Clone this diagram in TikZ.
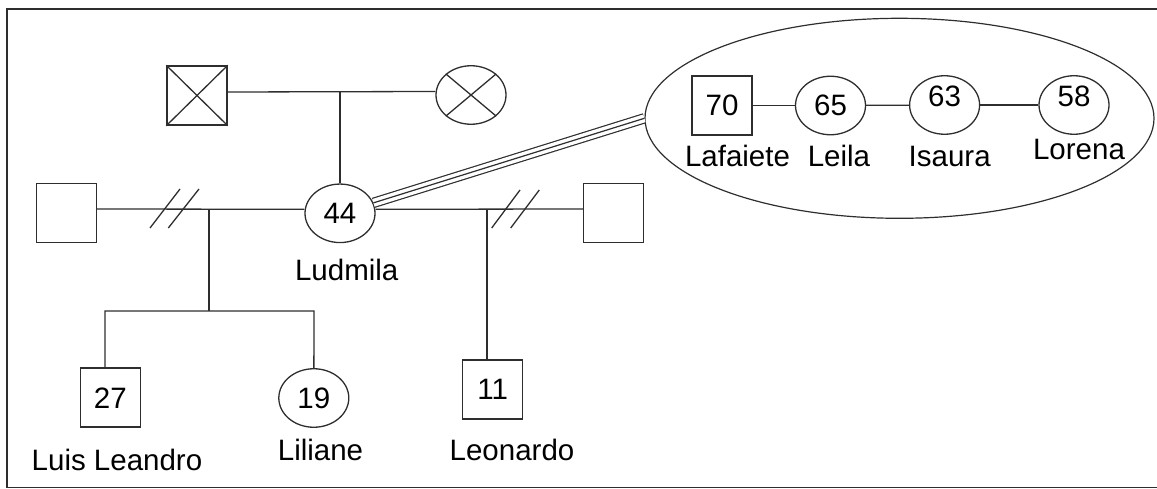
\documentclass[tikz,border=0pt]{standalone}
\usepackage{fontspec}
\setmainfont{Liberation Sans}
\usetikzlibrary{shapes.geometric}
\begin{document}
\begin{tikzpicture}[x=1pt,y=-1pt,
  ln/.style={line width=1.3pt, draw=black!82},
  txt/.style={font=\fontsize{29.5}{35}\selectfont, text=black},
  sq/.style={txt, draw=black!82, line width=1.5pt, rectangle, minimum width=60pt, minimum height=59pt, inner sep=0pt},
  ov/.style={txt, draw=black!82, line width=1.3pt, ellipse, minimum width=70pt, minimum height=58.5pt, inner sep=0pt},
  nm/.style={txt, anchor=base, inner sep=0pt},
]
\useasboundingbox (0,0) rectangle (1157,489);
\draw[line width=1.5pt, black!82] (7,9) rectangle (1175,487.5);

% grandparents
\node[sq] (gf) at (197,95.5) {};
\draw[ln] (gf.north west) -- (gf.south east) (gf.north east) -- (gf.south west);
\node[ov] (gm) at (471,95) {};
\draw[ln] (gm.north west) -- (gm.south east) (gm.north east) -- (gm.south west);
\draw[ln] ([yshift=3.5pt]gf.east) -- ([yshift=3.5pt]gm.west);
\coordinate (gp) at (340,92);

% Ludmila and partners
\node[ov] (lud) at (340,213.3) {44};
\draw[ln] (gp) -- (lud);
\node[sq] (ls) at (66.3,213) {};
\node[sq] (rs) at (613.5,213) {};
\draw[ln] ([yshift=4pt]ls.east) -- ([yshift=4pt]lud.west);
\draw[ln] ([yshift=4pt]lud.east) -- ([yshift=4pt]rs.west);
\draw[ln] (150,228) -- (180,189) (168.3,228) -- (199,189);
\draw[ln] (491.7,228) -- (520,190) (510.7,228) -- (539.3,190);

% children
\node[sq] (luis) at (110.3,397.7) {27};
\node[ov] (lil) at (313.8,398) {19};
\node[sq] (leo) at (492.7,389.5) {11};
\coordinate (ld) at (209,209);
\coordinate (lb) at (209,311);
\coordinate (bl) at (105,311);
\coordinate (br) at (314,311);
\draw[ln] (ld) -- (lb);
\draw[ln] (luis.north -| bl) -- (bl) -- (br) -- (lil);
\coordinate (rd) at (487,209);
\draw[ln] (rd) -- (leo.north -| rd);

% family of origin
\node[draw=black!82, line width=1.2pt, ellipse, minimum width=509pt, minimum height=200pt, inner sep=0pt] (fam) at (899.5,118.3) {};
\node[sq] (laf) at (722,105.5) {70};
\node[ov] (lei) at (830.5,105.5) {65};
\node[ov] (isa) at (944.6,105) {\smash{\raisebox{-2pt}{63}}};
\node[ov] (lor) at (1074,105) {\smash{\raisebox{-2pt}{58}}};
\draw[ln] (laf) -- (lei);
\draw[ln] (lei) -- (isa);
\draw[ln] (isa) -- (lor);

% triple line
\draw[line width=1.2pt, draw=black!82, double=white, double distance=8pt] (lud) -- (fam.west);
\draw[line width=1.2pt, draw=black!82] (lud) -- (fam.west);

% names
\node[nm] (lafn) at (737.5,166.7) {Lafaiete};
\node[nm] (lein) at (839,166.7) {Leila};
\node[nm] (isan) at (949.7,166.7) {Isaura};
\node[nm] (lorn) at (1079,160) {Lorena};
\node[nm] (ludn) at (346.7,280) {Ludmila};
\node[nm] (luisn) at (117,470) {Luis Leandro};
\node[nm] (liln) at (320.5,460) {Liliane};
\node[nm] (leon) at (512,460) {Leonardo};
\end{tikzpicture}
\end{document}
